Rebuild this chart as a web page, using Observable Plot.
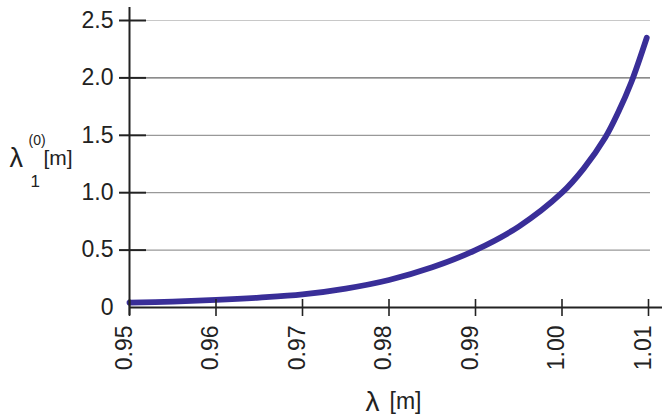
<!DOCTYPE html>
<html><head><meta charset="utf-8">
<script src="https://cdn.jsdelivr.net/npm/d3@7"></script>
<script src="https://cdn.jsdelivr.net/npm/@observablehq/plot@0.6"></script>
<style>html,body{margin:0;padding:0;background:#fff} #chart svg{display:block}</style>
</head><body><div id="chart"></div>
<script>
// λ [m] (x) and λ1^(0) [m] (y)
const lambda  = [0.950, 0.955, 0.960, 0.965, 0.970, 0.975, 0.980, 0.985, 0.990, 0.995, 1.000, 1.0025, 1.005, 1.0065, 1.008, 1.0098];
const lambda1 = [0.042, 0.052, 0.066, 0.086, 0.114, 0.165, 0.240, 0.350, 0.500, 0.705, 1.000, 1.21,   1.48,  1.70,   1.96,  2.35];

const xTicks = [0.95, 0.96, 0.97, 0.98, 0.99, 1.00, 1.01];
const xTickLabels = ["0.95", "0.96", "0.97", "0.98", "0.99", "1.00", "1.01"];
const yTicks = [0, 0.5, 1.0, 1.5, 2.0, 2.5];
const yTickLabels = ["0", "0.5", "1.0", "1.5", "2.0", "2.5"];

const data = lambda.map((x, i) => ({x, y: lambda1[i]}));

const W = 664, H = 417, mL = 129, mT = 20, mR = 16, mB = 110;
const innerW = W - mL - mR, innerH = H - mT - mB;
const ink = "#222";
const gridColor = d => d === 2.5 ? "#c8c8c8" : d === 2.0 ? "#666" : "#999";

const plot = Plot.plot({
  width: W, height: H,
  marginLeft: mL, marginTop: mT, marginRight: mR, marginBottom: mB,
  x: {domain: [0.95, 1.01], axis: null},
  y: {domain: [0, 2.5], axis: null},
  style: {fontFamily: "'Liberation Sans', Arial, Helvetica, sans-serif", background: "#fff", color: ink},
  marks: [
    // horizontal grid lines
    Plot.ruleY(yTicks.filter(d => d > 0), {y: d => d, insetLeft: 17, insetRight: -2, stroke: gridColor, strokeWidth: 1.2}),
    // curve
    Plot.line(data, {x: "x", y: "y", stroke: "#392e98", strokeWidth: 5.8, curve: "catmull-rom"}),
    // axis lines
    Plot.ruleX([0.95], {x: d => d, insetTop: -13, insetBottom: -8, stroke: ink, strokeWidth: 2}),
    Plot.ruleY([0], {y: d => d, insetRight: -14, stroke: ink, strokeWidth: 2}),
    // y ticks (crossing)
    Plot.ruleY(yTicks.filter(d => d > 0), {y: d => d, insetLeft: -10, insetRight: innerW - 17, stroke: ink, strokeWidth: 2}),
    // x ticks (crossing)
    Plot.ruleX(xTicks, {x: d => d, insetTop: innerH - 8, insetBottom: -9, stroke: ink, strokeWidth: 1.6}),
    // y tick labels
    Plot.text(yTicks, {y: d => d, text: (d, i) => yTickLabels[i], frameAnchor: "left", dx: -16, textAnchor: "end", fontSize: 23, fill: ink}),
    // x tick labels (rotated)
    Plot.text(xTicks, {x: d => d, text: (d, i) => xTickLabels[i], frameAnchor: "bottom", dy: 18, dx: 2, rotate: -90, textAnchor: "end", fontSize: 23, fill: ink}),
    // x title
    Plot.text(["λ"], {frameAnchor: "top-left", dx: 365 - mL, dy: 410 - mT, textAnchor: "start", lineAnchor: "bottom", fontSize: 28, fill: ink}),
    Plot.text(["[m]"], {frameAnchor: "top-left", dx: 389 - mL, dy: 408 - mT, textAnchor: "start", lineAnchor: "bottom", fontSize: 23, fill: ink}),
    // y title
    Plot.text(["λ"], {frameAnchor: "top-left", dx: 9 - mL, dy: 166 - mT, textAnchor: "start", lineAnchor: "bottom", fontSize: 27, fill: ink}),
    Plot.text(["(0)"], {frameAnchor: "top-left", dx: 28 - mL, dy: 144 - mT, textAnchor: "start", lineAnchor: "bottom", fontSize: 14, fill: ink}),
    Plot.text(["1"], {frameAnchor: "top-left", dx: 30 - mL, dy: 186 - mT, textAnchor: "start", lineAnchor: "bottom", fontSize: 17, fill: ink}),
    Plot.text(["[m]"], {frameAnchor: "top-left", dx: 43 - mL, dy: 164 - mT, textAnchor: "start", lineAnchor: "bottom", fontSize: 21, fill: ink})
  ]
});
document.getElementById("chart").appendChild(plot);
</script>
</body></html>
